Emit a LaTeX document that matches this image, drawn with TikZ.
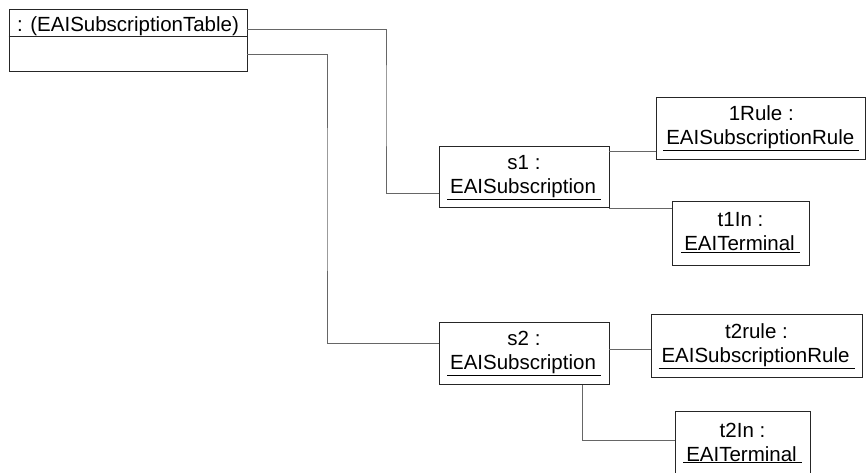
\documentclass[tikz,border=0pt]{standalone}
\usepackage{fontspec}
\setmainfont{Liberation Sans}
\usepackage{tikz}

\newcommand{\objfont}{\fontsize{20.5}{24}\selectfont}
\newcommand{\objname}[1]{\underline{\hspace{3pt}#1\hspace{5pt}}}

\begin{document}
\begin{tikzpicture}[x=1pt,y=-1pt,
  obj/.style={draw=black!85,line width=0.9pt,rectangle,inner sep=0pt,align=center,font=\objfont},
  link/.style={draw=black!60,line width=0.9pt}]
 \useasboundingbox (0,0) rectangle (867,473);
 \node[obj,minimum width=238pt,minimum height=62pt] (tab) at (128,40) {};
 \coordinate (div) at (0,36);
 \draw[draw=black!85,line width=0.9pt] (tab.west |- div) -- (tab.east |- div);
 \node[font=\objfont,anchor=base,inner sep=0pt] (tabname) at (128,32) {: (EAISubscriptionTable)};
 \node[obj,minimum width=170pt,minimum height=61pt] (s1) at (524,177.3) {s1 :\\\objname{EAISubscription}};
 \node[obj,minimum width=209pt,minimum height=62pt] (rule1) at (761.3,128.3) {1Rule :\\\objname{EAISubscriptionRule}};
 \node[obj,minimum width=137pt,minimum height=64pt] (t1in) at (740.5,233) {t1In :\\\objname{EAITerminal}};
 \node[obj,minimum width=170pt,minimum height=62pt] (s2) at (524,353.8) {s2 :\\\objname{EAISubscription}};
 \node[obj,minimum width=211pt,minimum height=63.7pt] (t2rule) at (756.5,345.8) {t2rule :\\\objname{EAISubscriptionRule}};
 \node[obj,minimum width=135pt,minimum height=64pt] (t2in) at (742.5,443) {t2In :\\\objname{EAITerminal}};
 \coordinate (bendA) at (386,100);
 \coordinate (bendB) at (327,200);
 \draw[link] ([yshift=11pt]tab.east) -| (bendA) |- ([yshift=-15.7pt]s1.west);
 \draw[link] ([yshift=-14pt]tab.east) -| (bendB) |- ([yshift=10.8pt]s2.west);
 \coordinate (r1) at ([yshift=-5pt]s1.north east);
 \draw[link] (r1) -- (r1 -| rule1.west);
 \draw[link] (s1.south east) -- (s1.south east -| t1in.west);
 \coordinate (r2) at ([yshift=4pt]s2.east);
 \draw[link] (r2) -- (r2 -| t2rule.west);
 \draw[link] ([xshift=-27pt]s2.south east) |- ([yshift=3pt]t2in.west);
\end{tikzpicture}
\end{document}
